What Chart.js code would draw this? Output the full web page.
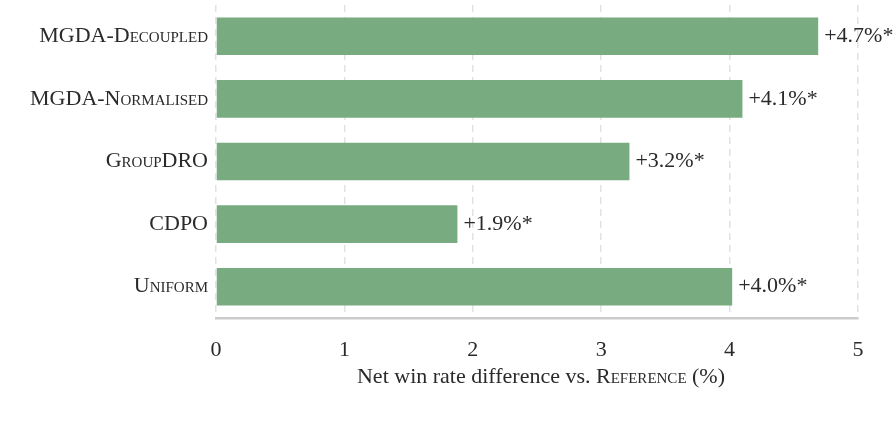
<!DOCTYPE html>
<html>
<head>
<meta charset="utf-8">
<script src="https://cdn.jsdelivr.net/npm/chart.js@4.4.0/dist/chart.umd.min.js"></script>
<style>
    body { margin: 0; background: #fff; }
    #wrap { width: 896px; height: 426px; position: relative; }
</style>
</head>
<body>
<div id="wrap"><canvas id="chart"></canvas></div>
<script>
const categories = ['MGDA-Decoupled', 'MGDA-Normalised', 'GroupDRO', 'CDPO', 'Uniform'];
const winRateDiff = [4.69, 4.10, 3.22, 1.88, 4.02];
const valueLabels = ['+4.7%*', '+4.1%*', '+3.2%*', '+1.9%*', '+4.0%*'];
const xTicks = [0, 1, 2, 3, 4, 5];

const FAMILY = "'Liberation Serif', 'Times New Roman', serif";
const TEXT = '#2a2a2a';

// etiquetas de valor a la derecha de cada barra
const valueLabelPlugin = {
    id: 'valueLabels',
    afterDatasetsDraw(chart) {
        const ctx = chart.ctx;
        const meta = chart.getDatasetMeta(0);
        ctx.save();
        ctx.font = '22px ' + FAMILY;
        ctx.fillStyle = TEXT;
        ctx.textAlign = 'left';
        ctx.textBaseline = 'middle';
        meta.data.forEach((bar, i) => {
            ctx.fillText(valueLabels[i], bar.x + 6, bar.y);
        });
        ctx.restore();
    }
};

// título del eje x con "Reference" en versalitas
const axisTitlePlugin = {
    id: 'axisTitle',
    afterDraw(chart) {
        const ctx = chart.ctx;
        const xs = chart.scales.x;
        const parts = [
            { text: 'Net win rate difference vs. ', font: '22px ' + FAMILY },
            { text: 'Reference', font: 'small-caps 22px ' + FAMILY },
            { text: ' (%)', font: '22px ' + FAMILY }
        ];
        ctx.save();
        let total = 0;
        parts.forEach(p => { ctx.font = p.font; p.w = ctx.measureText(p.text).width; total += p.w; });
        let x = (xs.left + xs.right) / 2 - total / 2 + 4;
        const y = xs.top + 65;
        ctx.fillStyle = TEXT;
        ctx.textAlign = 'left';
        ctx.textBaseline = 'alphabetic';
        parts.forEach(p => {
            ctx.font = p.font;
            ctx.fillText(p.text, x, y);
            x += p.w;
        });
        ctx.restore();
    }
};

new Chart(document.getElementById('chart').getContext('2d'), {
    type: 'bar',
    data: {
        labels: categories,
        datasets: [{
            data: winRateDiff,
            backgroundColor: '#78ab80',
            borderWidth: 0,
            barPercentage: 0.6,
            categoryPercentage: 1.0
        }]
    },
    options: {
        indexAxis: 'y',
        responsive: true,
        maintainAspectRatio: false,
        animation: false,
        layout: { padding: { top: 5, right: 38, bottom: 0, left: 0 } },
        plugins: {
            legend: { display: false },
            tooltip: { enabled: false }
        },
        scales: {
            x: {
                min: 0,
                max: 5,
                afterBuildTicks: scale => { scale.ticks = xTicks.map(v => ({ value: v })); },
                afterFit: scale => { scale.height = 108; },
                ticks: {
                    color: TEXT,
                    padding: 19,
                    font: { family: FAMILY, size: 22 }
                },
                grid: {
                    color: '#e2e2e2',
                    lineWidth: 1.5,
                    drawTicks: false
                },
                border: {
                    display: true,
                    color: '#cccccc',
                    width: 2.5,
                    dash: [7, 5]
                }
            },
            y: {
                afterFit: scale => {
                    scale.width = 216;
                    scale.paddingTop = 0;
                    scale.paddingBottom = 0;
                },
                ticks: {
                    color: TEXT,
                    padding: 8,
                    font: { family: FAMILY, size: 22, weight: 'small-caps' }
                },
                grid: { display: false, drawTicks: false },
                border: { display: false }
            }
        }
    },
    plugins: [valueLabelPlugin, axisTitlePlugin]
});
</script>
</body>
</html>
